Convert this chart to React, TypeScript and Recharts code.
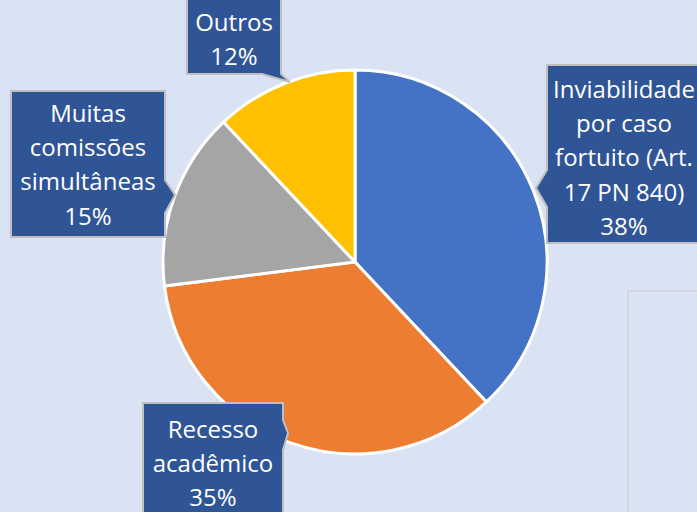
import { PieChart, Pie, Cell } from 'recharts';

// Dados do gráfico
const categories = [
  'Inviabilidade por caso fortuito (Art. 17 PN 840)',
  'Recesso acadêmico',
  'Muitas comissões simultâneas',
  'Outros',
];
const percents = [38, 35, 15, 12];
// linhas dos rótulos (quebra como no original)
const labelLines = [
  ['Inviabilidade', 'por caso', 'fortuito (Art.', '17 PN 840)'],
  ['Recesso', 'acadêmico'],
  ['Muitas', 'comissões', 'simultâneas'],
  ['Outros'],
];

const colors = ['#4472c4', '#ed7d31', '#a5a5a5', '#ffc000'];

const data = categories.map((name, i) => ({ name, value: percents[i] }));

// caixas dos rótulos: retângulo + ponta
const callouts = [
  { x: 547, y: 65, w: 160, h: 178, tip: [536, 188], base: [[547, 207], [547, 170]], textX: 624, firstY: 88 },
  { x: 143, y: 403, w: 140, h: 120, tip: [288, 433], base: [[283, 420], [283, 450]], textX: 213, firstY: 428 },
  { x: 11, y: 91, w: 154, h: 146, tip: [175, 195], base: [[165, 180], [165, 213]], textX: 88, firstY: 112 },
  { x: 187, y: -3, w: 94, h: 77, tip: [290, 82], base: [[281, 74], [262, 74]], textX: 234, firstY: 21 },
];

const LINE_H = 34.4;

function calloutPath(c: any, index: number) {
  const { x, y, w, h, tip, base } = c;
  const r = x + w;
  const b = y + h;
  if (index === 0) {
    // ponta no lado esquerdo
    return `M${x},${y} L${r},${y} L${r},${b} L${x},${b} L${base[0][0]},${base[0][1]} L${tip[0]},${tip[1]} L${base[1][0]},${base[1][1]} Z`;
  }
  if (index === 1 || index === 2) {
    // ponta no lado direito
    return `M${x},${y} L${r},${y} L${base[0][0]},${base[0][1]} L${tip[0]},${tip[1]} L${base[1][0]},${base[1][1]} L${r},${b} L${x},${b} Z`;
  }
  // ponta embaixo
  return `M${x},${y} L${r},${y} L${r},${b} L${tip[0]},${tip[1]} L${base[1][0]},${base[1][1]} L${x},${b} Z`;
}

const renderLabel = (props: any) => {
  const { index } = props;
  const c = callouts[index];
  const lines = [...labelLines[index], `${percents[index]}%`];
  return (
    <g key={`lbl-${index}`}>
      <path d={calloutPath(c, index)} fill="#2f5597" stroke="#bfbfbf" strokeWidth={2} />
      {lines.map((t, i) => (
        <text
          key={i}
          x={c.textX}
          y={c.firstY + i * LINE_H}
          textAnchor="middle"
          dominantBaseline="central"
          fill="#ffffff"
          fontSize={24}
          fontFamily="'Open Sans', sans-serif"
        >
          {t}
        </text>
      ))}
    </g>
  );
};

export default function App() {
  return (
    <div style={{ position: 'absolute', left: 0, top: 0, width: 697, height: 512, background: '#dae3f3', overflow: 'hidden' }}>
      <div
        style={{
          position: 'absolute',
          left: 627,
          top: 290,
          width: 120,
          height: 260,
          border: '2px solid #d5d9df',
        }}
      />
      <PieChart
        width={697}
        height={512}
        margin={{ top: 0, right: 0, bottom: 0, left: 0 }}
        style={{ position: 'absolute', left: 0, top: 0 }}
      >
        <Pie
          data={data}
          dataKey="value"
          nameKey="name"
          cx={355}
          cy={262}
          outerRadius={192}
          startAngle={90}
          endAngle={-270}
          stroke="#ffffff"
          strokeWidth={3}
          label={renderLabel}
          labelLine={false}
          isAnimationActive={false}
        >
          {data.map((d, i) => (
            <Cell key={d.name} fill={colors[i]} />
          ))}
        </Pie>
      </PieChart>
    </div>
  );
}
